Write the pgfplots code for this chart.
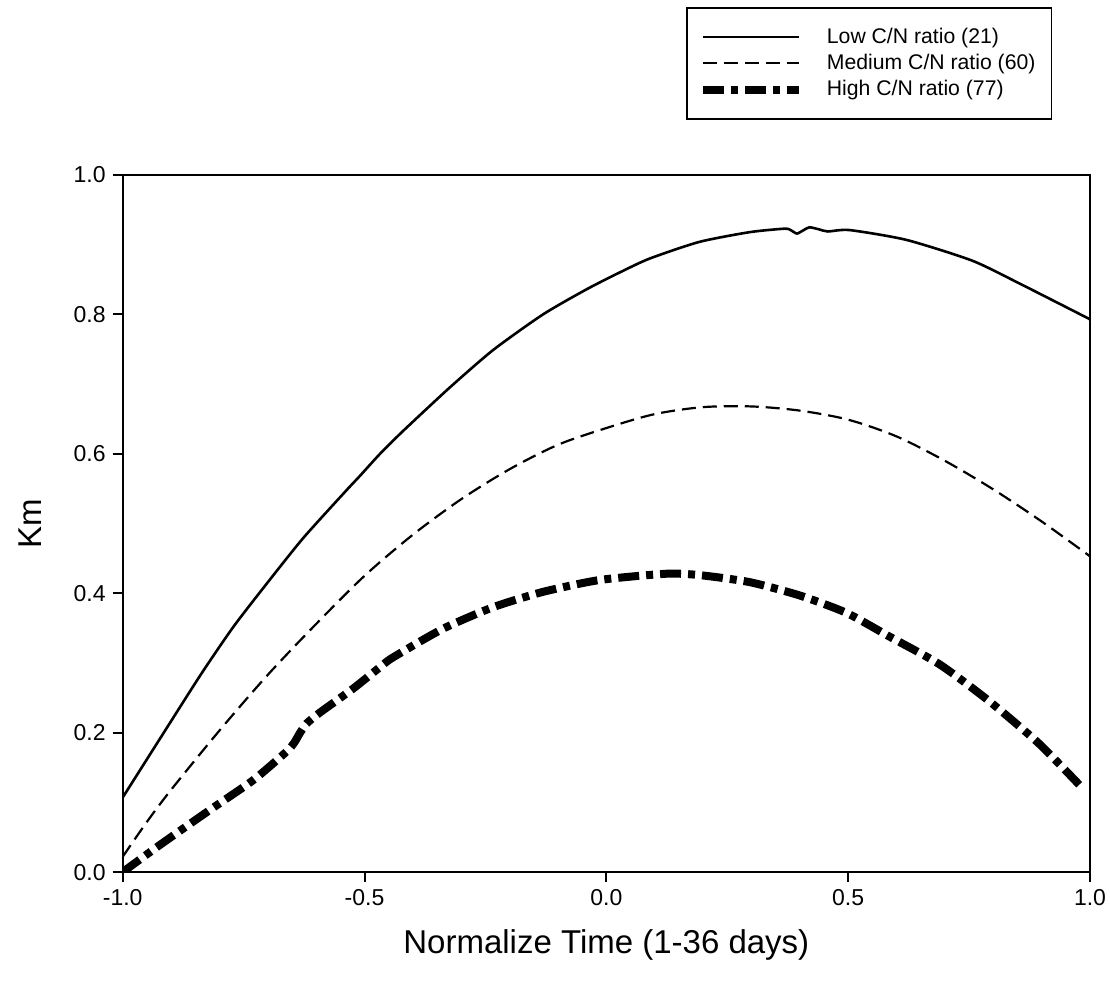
\documentclass[border=0pt]{standalone}
\usepackage{fontspec}
\setmainfont{Liberation Sans}
\usepackage{pgfplots}
\pgfplotsset{compat=1.18}

\begin{document}
\begin{tikzpicture}
\begin{axis}[
  scale only axis,
  width=483.6pt, height=348.5pt,
  xmin=-1, xmax=1, ymin=0, ymax=1,
  axis line style={line width=1pt},
  xtick={-1,-0.5,0,0.5,1},
  xticklabels={-1.0,-0.5,0.0,0.5,1.0},
  ytick={0,0.2,0.4,0.6,0.8,1.0},
  yticklabels={0.0,0.2,0.4,0.6,0.8,1.0},
  tick align=outside,
  xtick pos=bottom, ytick pos=left,
  major tick length=5pt,
  tick style={line width=1pt, black},
  ticklabel style={font=\fontsize{11.5}{13}\selectfont},
  xlabel={Normalize Time (1-36 days)},
  ylabel={Km},
  label style={font=\fontsize{16.5}{19}\selectfont},
  xlabel style={at={(axis description cs:0.5,-0.105)}, anchor=center},
  ylabel style={at={(axis description cs:-0.096,0.5)}, anchor=center},
  legend style={at={(rel axis cs:0.961,1.241)}, anchor=north east,
    draw=black, line width=0.8pt, font=\fontsize{10.6}{12}\selectfont,
    inner xsep=6pt, inner ysep=8pt, row sep=0pt},
  legend cell align=left,
  legend image code/.code={\draw[#1] (0pt,0pt) -- (48pt,0pt); \path (58pt,0pt);},
]
% Low C/N ratio
\addplot[black, line width=1.3pt, smooth, tension=0.4] coordinates {
(-1.000,0.107) (-0.916,0.199) (-0.837,0.285) (-0.771,0.352) (-0.702,0.414)
(-0.627,0.479) (-0.537,0.548) (-0.510,0.568) (-0.468,0.600) (-0.420,0.633)
(-0.324,0.695) (-0.234,0.749) (-0.131,0.800) (-0.041,0.836) (0.027,0.860)
(0.089,0.880) (0.192,0.904) (0.296,0.918) (0.368,0.923) (0.381,0.921)
(0.394,0.916) (0.408,0.921) (0.420,0.925) (0.440,0.922) (0.458,0.919)
(0.503,0.921) (0.620,0.907) (0.757,0.877) (0.861,0.842) (1.000,0.793)
};
% Medium C/N ratio
\addplot[black, line width=1.1pt, dash pattern=on 7pt off 3.5pt, smooth] coordinates {
(-1.00,0.022) (-0.95,0.072) (-0.90,0.118) (-0.80,0.203) (-0.70,0.283)
(-0.60,0.356) (-0.50,0.425) (-0.40,0.484) (-0.30,0.535) (-0.20,0.578)
(-0.10,0.613) (0.00,0.637) (0.10,0.657) (0.20,0.667) (0.30,0.668)
(0.40,0.662) (0.50,0.649) (0.60,0.625) (0.70,0.590) (0.80,0.549)
(0.90,0.503) (1.00,0.453)
};
% High C/N ratio
\addplot[black, line width=4pt, dash pattern=on 10.5pt off 3.5pt on 3.5pt off 3.5pt, smooth, tension=0.4] coordinates {
(-1.000,0.000) (-0.923,0.039) (-0.820,0.089) (-0.730,0.132) (-0.661,0.173)
(-0.645,0.186) (-0.634,0.199) (-0.620,0.213) (-0.592,0.229) (-0.524,0.263)
(-0.468,0.294) (-0.441,0.308) (-0.338,0.349) (-0.234,0.380) (-0.131,0.402)
(-0.014,0.419) (0.124,0.428) (0.193,0.426) (0.296,0.416) (0.399,0.397)
(0.496,0.372) (0.585,0.338) (0.689,0.298) (0.792,0.245) (0.895,0.184)
(0.985,0.120)
};
\legend{Low C/N ratio (21), Medium C/N ratio (60), High C/N ratio (77)}
\coordinate (sw) at (rel axis cs:0,0);
\coordinate (ne) at (rel axis cs:1,1);
\end{axis}
\pgfresetboundingbox
\path[use as bounding box] ([xshift=-61.35pt,yshift=-55pt]sw) rectangle ([xshift=10pt,yshift=87.5pt]ne);
\end{tikzpicture}
\end{document}
